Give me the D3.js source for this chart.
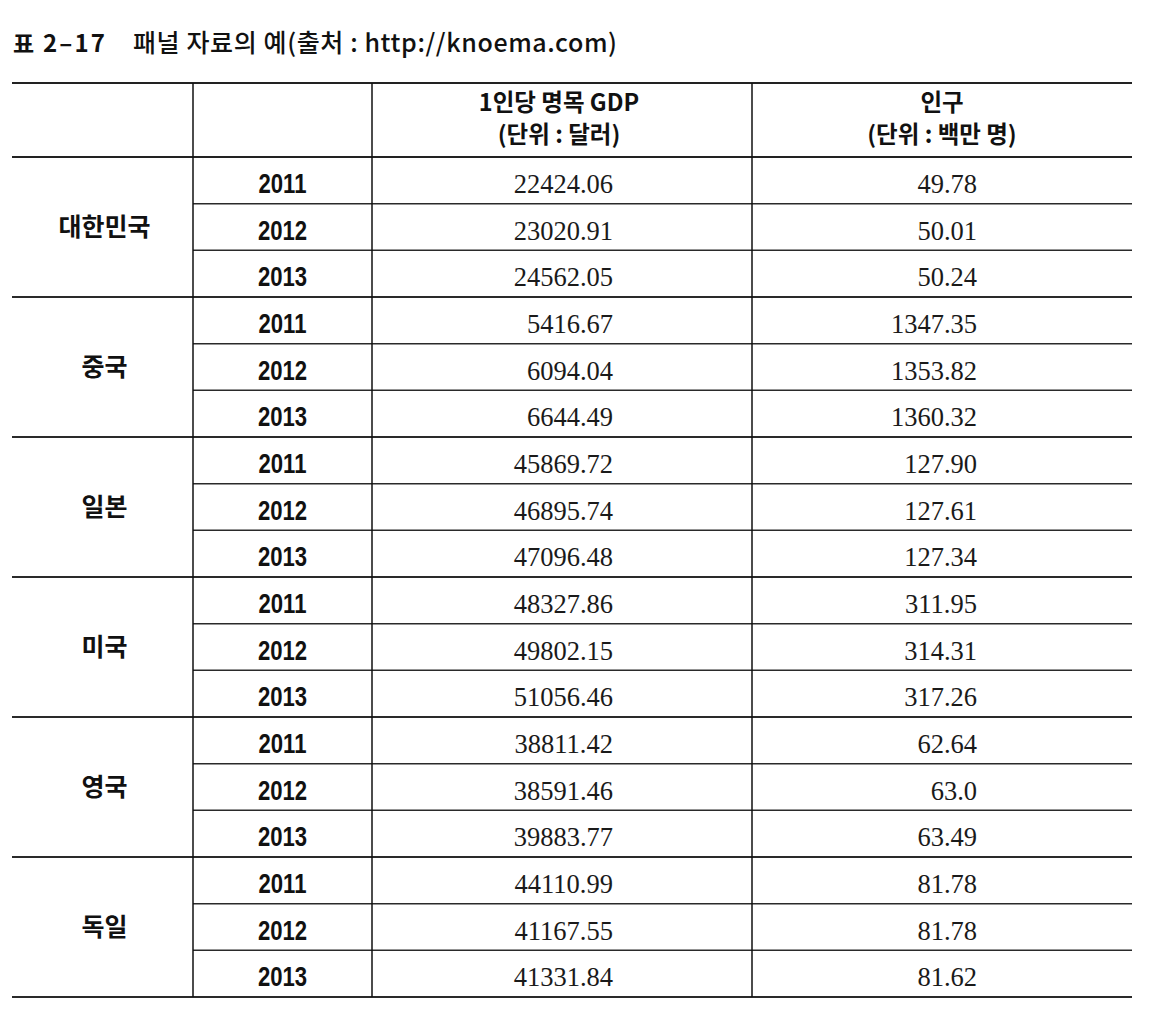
<!DOCTYPE html>
<html>
<head>
<meta charset="utf-8">
<script src="https://cdn.jsdelivr.net/npm/d3@7"></script>
<style>
  body { margin: 0; background: #fff; }
  svg { display: block; }
</style>
</head>
<body>
<svg id="table" width="1158" height="1020"></svg>
<script>
// table data
var countries = ["대한민국", "중국", "일본", "미국", "영국", "독일"];
var years = ["2011", "2012", "2013"];
var gdp = [
  "22424.06", "23020.91", "24562.05",
  "5416.67", "6094.04", "6644.49",
  "45869.72", "46895.74", "47096.48",
  "48327.86", "49802.15", "51056.46",
  "38811.42", "38591.46", "39883.77",
  "44110.99", "41167.55", "41331.84"
];
var population = [
  "49.78", "50.01", "50.24",
  "1347.35", "1353.82", "1360.32",
  "127.90", "127.61", "127.34",
  "311.95", "314.31", "317.26",
  "62.64", "63.0", "63.49",
  "81.78", "81.78", "81.62"
];
var headers = [
  ["1인당 명목 GDP", "(단위 : 달러)"],
  ["인구", "(단위 : 백만 명)"]
];

var svg = d3.select("#table");

var tLeft = 12, tRight = 1132, tTop = 83, headBottom = 157, tBottom = 997;
var colEdges = [tLeft, 193, 372, 752, tRight];

// one row for each country/year pair
var rows = [];
countries.forEach((c, i) => {
  years.forEach((yr, j) => {
    rows.push({ country: c, year: yr, gdp: gdp[i * 3 + j], pop: population[i * 3 + j] });
  });
});

var y = d3.scaleBand()
  .domain(d3.range(rows.length))
  .range([headBottom, tBottom]);

var korean = "'Noto Sans CJK KR', 'Noto Sans', sans-serif";

// title
svg.append("text")
  .attr("x", 13)
  .attr("y", 52)
  .style("font-family", korean)
  .style("font-size", "23px")
  .style("font-weight", 700)
  .attr("fill", "#111")
  .text("표");
svg.append("text")
  .attr("x", 43)
  .attr("y", 52)
  .attr("textLength", 62)
  .attr("lengthAdjust", "spacing")
  .style("font-family", korean)
  .style("font-size", "24px")
  .style("font-weight", 700)
  .attr("fill", "#111")
  .text("2–17");
svg.append("text")
  .attr("x", 133)
  .attr("y", 52)
  .attr("textLength", 484)
  .attr("lengthAdjust", "spacing")
  .style("font-family", korean)
  .style("font-size", "25px")
  .style("font-weight", 500)
  .attr("fill", "#111")
  .text("패널 자료의 예(출처 : http://knoema.com)");

// horizontal lines
svg.append("line")
  .attr("x1", tLeft).attr("x2", tRight)
  .attr("y1", tTop).attr("y2", tTop)
  .attr("stroke", "#222").attr("stroke-width", 2);

svg.append("line")
  .attr("x1", tLeft).attr("x2", tRight)
  .attr("y1", headBottom).attr("y2", headBottom)
  .attr("stroke", "#222").attr("stroke-width", 2);

svg.selectAll(".rowline")
  .data(rows)
  .enter()
  .append("line")
  .attr("class", "rowline")
  .attr("x1", (d, i) => (i % 3 == 2) ? tLeft : colEdges[1])
  .attr("x2", tRight)
  .attr("y1", (d, i) => y(i) + y.bandwidth())
  .attr("y2", (d, i) => y(i) + y.bandwidth())
  .attr("stroke", "#2a2a2a")
  .attr("stroke-width", (d, i) => (i % 3 == 2) ? 2 : 1.5);

// vertical lines
svg.selectAll(".colline")
  .data(colEdges.slice(1, 4))
  .enter()
  .append("line")
  .attr("class", "colline")
  .attr("x1", d => d).attr("x2", d => d)
  .attr("y1", tTop).attr("y2", tBottom)
  .attr("stroke", "#111")
  .attr("stroke-width", 1.5);

// header text
headers.forEach((h, k) => {
  var cx = (colEdges[k + 2] + colEdges[k + 3]) / 2 - (k == 0 ? 3 : 0);
  h.forEach((line, n) => {
    svg.append("text")
      .attr("x", cx)
      .attr("y", 111 + n * 32)
      .attr("text-anchor", "middle")
      .style("font-family", korean)
      .style("font-size", "23.5px")
      .style("font-weight", 700)
      .attr("fill", "#111")
      .text(line);
  });
});

// country names, centered on the middle row of each group
svg.selectAll(".country")
  .data(countries)
  .enter()
  .append("text")
  .attr("class", "country")
  .attr("x", (colEdges[0] + colEdges[1]) / 2 + 2)
  .attr("y", (d, i) => y(i * 3 + 1) + y.bandwidth() / 2)
  .attr("dy", "0.36em")
  .attr("text-anchor", "middle")
  .style("font-family", korean)
  .style("font-size", "25px")
  .style("font-weight", 700)
  .attr("fill", "#111")
  .text(d => d);

// years (narrow bold digits)
svg.selectAll(".year")
  .data(rows)
  .enter()
  .append("text")
  .attr("class", "year")
  .attr("transform", (d, i) => `translate(${(colEdges[1] + colEdges[2]) / 2},${y(i) + 36}) scale(0.82,1)`)
  .attr("text-anchor", "middle")
  .style("font-family", "'Liberation Sans', Arial, sans-serif")
  .style("font-size", "27px")
  .style("font-weight", 700)
  .attr("fill", "#111")
  .text(d => d.year);

// GDP per capita
svg.selectAll(".gdp")
  .data(rows)
  .enter()
  .append("text")
  .attr("class", "gdp")
  .attr("x", 613)
  .attr("y", (d, i) => y(i) + 36)
  .attr("text-anchor", "end")
  .style("font-family", "'Liberation Serif', 'DejaVu Serif', serif")
  .style("font-size", "26.5px")
  .attr("fill", "#1a1a1a")
  .text(d => d.gdp);

// population
svg.selectAll(".pop")
  .data(rows)
  .enter()
  .append("text")
  .attr("class", "pop")
  .attr("x", 977)
  .attr("y", (d, i) => y(i) + 36)
  .attr("text-anchor", "end")
  .style("font-family", "'Liberation Serif', 'DejaVu Serif', serif")
  .style("font-size", "26.5px")
  .attr("fill", "#1a1a1a")
  .text(d => d.pop);
</script>
</body>
</html>
